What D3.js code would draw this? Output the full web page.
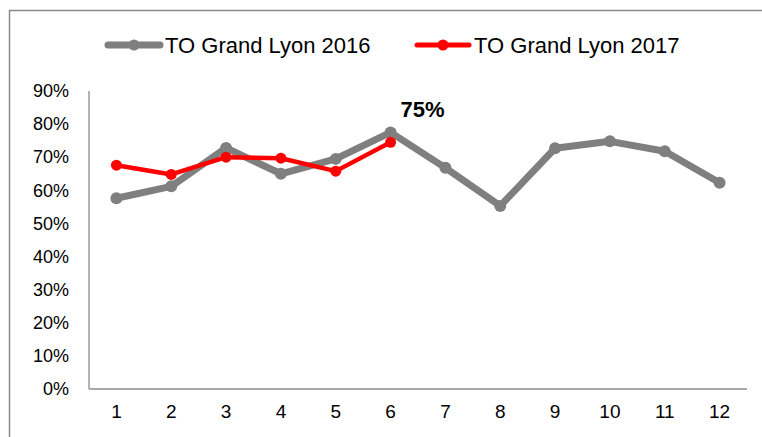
<!DOCTYPE html>
<html>
<head>
    <meta charset="utf-8">
    <title>TO Grand Lyon</title>
    <script src="https://d3js.org/d3.v7.min.js"></script>
    <style type="text/css">
        body { margin: 0; background: #fff; }
        .textset { font-family: 'Liberation Sans', Arial, sans-serif; fill: #000; }
        .axis path { stroke: #8c8c8c; stroke-width: 1.3; }
        .axis line { display: none; }
    </style>
</head>
<body>
    <script type="text/javascript">

        var months = [1, 2, 3, 4, 5, 6, 7, 8, 9, 10, 11, 12];
        var to2016 = [0.576, 0.612, 0.728, 0.650, 0.695, 0.775, 0.668, 0.553, 0.727, 0.748, 0.718, 0.623];
        var to2017 = [0.676, 0.648, 0.700, 0.697, 0.658, 0.745];
        var seriesNames = ["TO Grand Lyon 2016", "TO Grand Lyon 2017"];
        var seriesColors = ["#7f7f7f", "#ff0000"];
        var yTicks = [0, 0.1, 0.2, 0.3, 0.4, 0.5, 0.6, 0.7, 0.8, 0.9];

        var W = 762, H = 437;
        var margin = { top: 91, right: 15, bottom: 48, left: 89 },
            width = 747 - margin.left,
            height = 389 - margin.top;

        var root = d3.select("body").append("svg")
            .attr("width", W)
            .attr("height", H);

        // outer frame
        root.append("rect")
            .attr("x", 9.5).attr("y", 10.5)
            .attr("width", 800).attr("height", 500)
            .attr("fill", "none")
            .attr("stroke", "#8a8a8a")
            .attr("stroke-width", 1.5);

        var svg = root.append("g")
            .attr("transform", "translate(" + margin.left + "," + margin.top + ")");

        var x = d3.scaleBand()
            .domain(months)
            .range([0, width]);
        var y = d3.scaleLinear()
            .domain([0, 0.9])
            .range([height, 0]);

        // x axis
        var xAxis = svg.append("g")
            .attr("class", "axis textset")
            .attr("transform", "translate(0," + height + ")")
            .call(d3.axisBottom(x).tickSize(0).tickSizeOuter(0).tickPadding(16));
        xAxis.selectAll("text")
            .attr("class", "textset")
            .attr("font-size", "19px")
            .attr("fill", "#000");

        // y axis
        var yAxis = svg.append("g")
            .attr("class", "axis textset")
            .call(d3.axisLeft(y).tickValues(yTicks).tickSize(0).tickSizeOuter(0)
                .tickPadding(20).tickFormat(d3.format(".0%")));
        yAxis.selectAll("text")
            .attr("class", "textset")
            .attr("font-size", "18px")
            .attr("fill", "#000");
        yAxis.select("path").attr("d", "M0," + height + "V0");
        xAxis.select("path").attr("d", "M0,0H" + width);

        var line = d3.line()
            .x(function (d, i) { return x(months[i]) + x.bandwidth() / 2; })
            .y(function (d) { return y(d); });

        var series = [
            { name: seriesNames[0], values: to2016, color: seriesColors[0], sw: 7, r: 6 },
            { name: seriesNames[1], values: to2017, color: seriesColors[1], sw: 4.5, r: 5.5 }
        ];

        series.forEach(function (s) {
            svg.append("path")
                .datum(s.values)
                .attr("fill", "none")
                .attr("stroke", s.color)
                .attr("stroke-width", s.sw)
                .attr("stroke-linejoin", "round")
                .attr("d", line);
            svg.selectAll(null)
                .data(s.values)
                .enter()
                .append("circle")
                .attr("cx", function (d, i) { return x(months[i]) + x.bandwidth() / 2; })
                .attr("cy", function (d) { return y(d); })
                .attr("r", s.r)
                .attr("fill", s.color);
        });

        // data label on last 2017 point
        var last = to2017.length - 1;
        svg.append("text")
            .attr("class", "textset")
            .attr("x", x(months[last]) + x.bandwidth() / 2 + 10)
            .attr("y", y(to2017[last]) - 25)
            .attr("font-size", "22px")
            .attr("font-weight", "bold")
            .text(d3.format(".0%")(to2017[last]));

        // legend
        var legendX = [108, 417];
        var legend = root.selectAll(".legend")
            .data(series)
            .enter()
            .append("g")
            .attr("class", "legend")
            .attr("transform", function (d, i) { return "translate(" + legendX[i] + ",45)"; });
        legend.append("line")
            .attr("x1", 0).attr("x2", 52)
            .attr("stroke", function (d) { return d.color; })
            .attr("stroke-width", function (d, i) { return i === 0 ? 7 : 5; })
            .attr("stroke-linecap", "round");
        legend.append("circle")
            .attr("cx", 26)
            .attr("r", 5.5)
            .attr("fill", function (d) { return d.color; });
        legend.append("text")
            .attr("class", "textset")
            .attr("x", 57)
            .attr("y", 7.5)
            .attr("font-size", "22px")
            .text(function (d) { return d.name; });

    </script>
</body>
</html>
